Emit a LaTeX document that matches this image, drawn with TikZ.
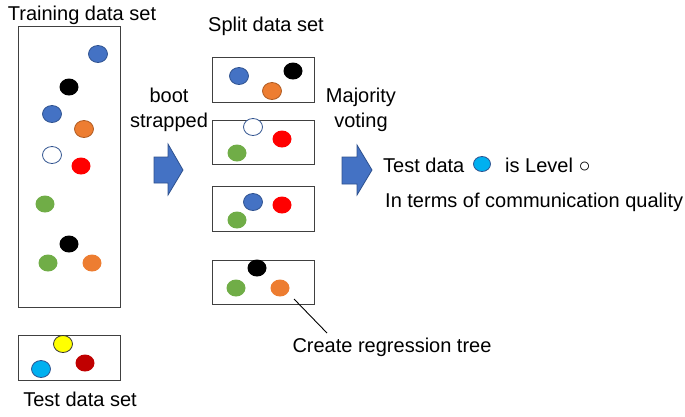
\documentclass[tikz,border=0pt]{standalone}
\usepackage{fontspec}
\setmainfont{Liberation Sans}
\usetikzlibrary{shapes.geometric}
\definecolor{cblue}{HTML}{4472C4}
\definecolor{cblueline}{HTML}{2F528F}
\definecolor{corange}{HTML}{ED7D31}
\definecolor{corangeline}{HTML}{AE5A21}
\definecolor{cgreen}{HTML}{70AD47}
\definecolor{cred}{HTML}{FF0000}
\definecolor{cdred}{HTML}{C00000}
\definecolor{ccyan}{HTML}{00B0F0}
\definecolor{cyellow}{HTML}{FFFF00}
\definecolor{boxline}{HTML}{404040}
\begin{document}
\begin{tikzpicture}[x=1pt,y=-1pt,
  every node/.style={font=\fontsize{20}{25}\selectfont},
  dot/.style={ellipse,minimum width=19pt,minimum height=17pt,inner sep=0pt,line width=0.8pt},
  bluedot/.style={dot,fill=cblue,draw=cblueline},
  blackdot/.style={dot,fill=black},
  orangedot/.style={dot,fill=corange},
  orangedotl/.style={dot,fill=corange,draw=corangeline},
  reddot/.style={dot,fill=cred},
  greendot/.style={dot,fill=cgreen},
  whitedot/.style={dot,fill=white,draw=cblueline},
  yellowdot/.style={dot,fill=cyellow,draw=black!80},
  dreddot/.style={dot,fill=cdred},
  cyandot/.style={dot,fill=ccyan,draw=cblueline},
  setbox/.style={draw=boxline,line width=1pt},
  blockarrow/.style={fill=cblue,draw=cblueline,line width=0.8pt}
]
\useasboundingbox (0,0) rectangle (685,416);
% titles
\node (ttitle) at (82,15) {Training data set};
\node (stitle) at (266,26) {Split data set};
\node (testtitle) at (80,399) {Test data set};
% training box
\draw[setbox] (18,26) rectangle (120,307);
\node[bluedot] (t1) at (98,54) {};
\node[blackdot] (t2) at (69,87) {};
\node[bluedot] (t3) at (52,114) {};
\node[orangedotl] (t4) at (84,129) {};
\node[whitedot] (t5) at (52,155) {};
\node[reddot] (t6) at (81,166) {};
\node[greendot] (t7) at (45,204) {};
\node[blackdot] (t8) at (69,244) {};
\node[greendot] (t9) at (48,263) {};
\node[orangedot] (t10) at (92,263) {};
% test box
\draw[setbox] (18,335) rectangle (120,380);
\node[yellowdot] (e1) at (63,344) {};
\node[dreddot] (e2) at (85,363) {};
\node[cyandot] (e3) at (41,369) {};
% split boxes
\draw[setbox] (212,57) rectangle (314,102);
\node[bluedot] (s11) at (239,76) {};
\node[blackdot] (s12) at (293,71) {};
\node[orangedotl] (s13) at (272,91) {};
\draw[setbox] (212,120) rectangle (314,164);
\node[whitedot] (s21) at (253,127) {};
\node[reddot] (s22) at (282,139) {};
\node[greendot] (s23) at (237,153) {};
\draw[setbox] (212,186) rectangle (314,231);
\node[bluedot] (s31) at (253,202) {};
\node[reddot] (s32) at (282,205) {};
\node[greendot] (s33) at (237,220) {};
\draw[setbox] (212,260) rectangle (314,304);
\node[blackdot] (s41) at (257,268) {};
\node[greendot] (s42) at (236,288) {};
\node[orangedot] (s43) at (280,288) {};
% arrows
\node[align=center] (boot) at (169,110) {boot\\strapped};
\draw[blockarrow] (154,157) -- (168,157) -- (168,144) -- (183,170) -- (168,195) -- (168,183) -- (154,183) -- cycle;
\node[align=center] (maj) at (361,110) {Majority\\voting};
\draw[blockarrow] (342,157) -- (357,157) -- (357,145) -- (372,170) -- (357,195) -- (357,184) -- (342,184) -- cycle;
% result text
\node[anchor=base west,inner sep=0pt] (td) at (383,172) {Test data};
\node[cyandot,minimum width=17pt,minimum height=15pt] (tdot) at (482,164) {};
\node[anchor=base west,inner sep=0pt] (lvl) at (505,172) {is Level ○};
\node[anchor=base west,inner sep=0pt] (terms) at (385,207) {In terms of communication quality};
% regression tree label
\node (crt) at (392,347) {Create regression tree};
\coordinate (lstart) at (294,299);
\coordinate (lend) at (327,333);
\draw[line width=0.9pt] (lstart) -- (lend);
\end{tikzpicture}
\end{document}
